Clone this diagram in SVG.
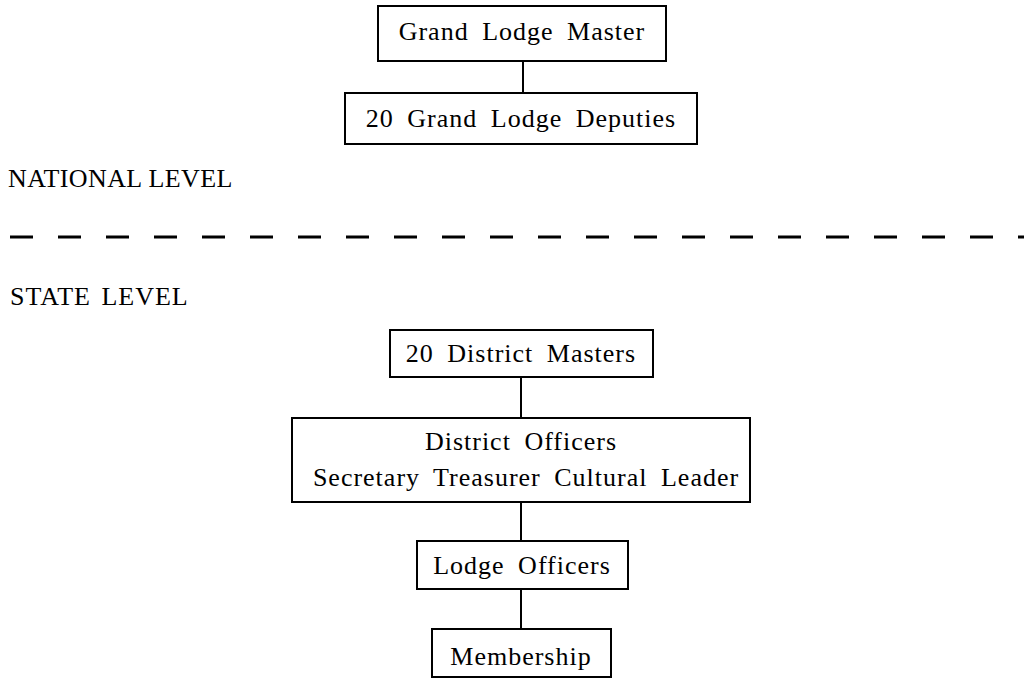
<svg xmlns="http://www.w3.org/2000/svg" width="1024" height="678" viewBox="0 0 1024 678">
<style>
.box{fill:#fff;stroke:#000;stroke-width:2}
.t{font-family:"Liberation Serif","Times New Roman",serif;font-size:26px;letter-spacing:1px;word-spacing:6px;fill:#000;text-anchor:middle}
.lvl{font-family:"Liberation Serif","Times New Roman",serif;font-size:26px;fill:#000}
.c{stroke:#000;stroke-width:2;fill:none}
</style>
<rect width="1024" height="678" fill="#fff"/>
<g id="connectors">
<line class="c" x1="523" y1="61" x2="523" y2="93"/>
<line class="c" x1="521" y1="377" x2="521" y2="418"/>
<line class="c" x1="521" y1="502" x2="521" y2="541"/>
<line class="c" x1="521" y1="589" x2="521" y2="629"/>
</g>
<g id="divider">
<line x1="10" y1="237" x2="1024" y2="237" stroke="#000" stroke-width="3" stroke-dasharray="23 25"/>
</g>
<g id="national-label"><text class="lvl" x="8" y="187" letter-spacing="0.4">NATIONAL LEVEL</text></g>
<g id="state-label"><text class="lvl" x="10" y="305" font-size="27" letter-spacing="1" word-spacing="3">STATE LEVEL</text></g>
<g id="grand-lodge-master">
<rect class="box" x="378" y="6" width="288" height="55"/>
<text class="t" x="522" y="40">Grand Lodge Master</text>
</g>
<g id="grand-lodge-deputies">
<rect class="box" x="345" y="93" width="352" height="51"/>
<text class="t" x="521" y="127">20 Grand Lodge Deputies</text>
</g>
<g id="district-masters">
<rect class="box" x="390" y="330" width="263" height="47"/>
<text class="t" x="521" y="362">20 District Masters</text>
</g>
<g id="district-officers">
<rect class="box" x="292" y="418" width="458" height="84"/>
<text class="t" x="521" y="450">District Officers</text>
<text class="t" x="526" y="486">Secretary Treasurer Cultural Leader</text>
</g>
<g id="lodge-officers">
<rect class="box" x="417" y="541" width="211" height="48"/>
<text class="t" x="522" y="574">Lodge Officers</text>
</g>
<g id="membership">
<rect class="box" x="432" y="629" width="179" height="48"/>
<text class="t" x="521" y="665">Membership</text>
</g>
</svg>
